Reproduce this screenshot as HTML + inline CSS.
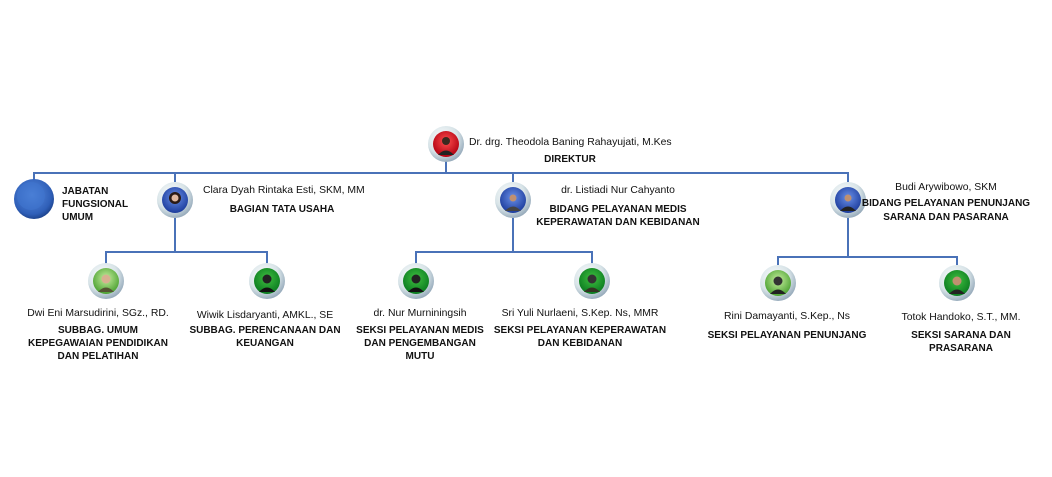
<!DOCTYPE html>
<html><head><meta charset="utf-8"><style>
html,body{margin:0;padding:0;background:#fff;}
svg{display:block;font-family:"Liberation Sans",sans-serif;}
.n{font-size:10.4px;fill:#111;}
.t{font-size:10px;font-weight:bold;fill:#111;}
</style></head><body>
<svg width="1052" height="477" viewBox="0 0 1052 477">
<defs>
<radialGradient id="ring" cx="40%" cy="35%" r="70%"><stop offset="0" stop-color="#ffffff"/><stop offset="0.6" stop-color="#d8e4e8"/><stop offset="1" stop-color="#8ea3b5"/></radialGradient>
<radialGradient id="blue" cx="45%" cy="40%" r="60%"><stop offset="0" stop-color="#5a8ee0"/><stop offset="0.8" stop-color="#2f5fb8"/><stop offset="1" stop-color="#1e4590"/></radialGradient>
<radialGradient id="red" cx="50%" cy="40%" r="60%"><stop offset="0" stop-color="#ff5050"/><stop offset="1" stop-color="#b00010"/></radialGradient>
<radialGradient id="bl" cx="50%" cy="40%" r="60%"><stop offset="0" stop-color="#6a90e8"/><stop offset="1" stop-color="#1c3c9c"/></radialGradient>
<radialGradient id="gr" cx="50%" cy="40%" r="60%"><stop offset="0" stop-color="#c8f0a0"/><stop offset="1" stop-color="#4aa030"/></radialGradient>
<radialGradient id="dg" cx="50%" cy="40%" r="60%"><stop offset="0" stop-color="#40c040"/><stop offset="1" stop-color="#0a7a20"/></radialGradient>
</defs>
<g stroke="#4a72b8" stroke-width="2" fill="none">
<path d="M446 160V173M34 181V173H848V182"/>
<path d="M175 173V182M513 173V182"/>
<path d="M175 218V252M106 264V252H267V264"/>
<path d="M513 218V252M416 264V252H592V264"/>
<path d="M848 218V257M778 265V257H957V265"/>
</g>
<circle cx="34" cy="199" r="20" fill="url(#blue)"/>
<circle cx="31" cy="196" r="14" fill="#3f74cf" opacity="0.6"/>
<g>
<circle cx="446" cy="144" r="18" fill="url(#ring)"/><circle cx="446" cy="144" r="13" fill="url(#red)"/><circle cx="446" cy="141" r="4" fill="#3a2a20"/><path d="M438 155q8-9 16 0z" fill="#222"/>
<circle cx="175" cy="200" r="18" fill="url(#ring)"/><circle cx="175" cy="200" r="13" fill="url(#bl)"/><circle cx="175" cy="198" r="6" fill="#2a1a15"/><circle cx="175" cy="198" r="3.5" fill="#e0b8a0"/>
<circle cx="513" cy="200" r="18" fill="url(#ring)"/><circle cx="513" cy="200" r="13" fill="url(#bl)"/><circle cx="513" cy="198" r="3.5" fill="#c09070"/><path d="M505 211q8-9 16 0z" fill="#444"/>
<circle cx="848" cy="200" r="18" fill="url(#ring)"/><circle cx="848" cy="200" r="13" fill="url(#bl)"/><circle cx="848" cy="198" r="3.5" fill="#c09070"/><path d="M840 211q8-9 16 0z" fill="#222"/>
<circle cx="106" cy="281" r="18" fill="url(#ring)"/><circle cx="106" cy="281" r="13" fill="url(#gr)"/><circle cx="106" cy="279" r="4.5" fill="#d8b090"/><path d="M98 292q8-9 16 0z" fill="#553"/>
<circle cx="267" cy="281" r="18" fill="url(#ring)"/><circle cx="267" cy="281" r="13" fill="url(#dg)"/><circle cx="267" cy="279" r="4.5" fill="#222"/><path d="M259 292q8-9 16 0z" fill="#111"/>
<circle cx="416" cy="281" r="18" fill="url(#ring)"/><circle cx="416" cy="281" r="13" fill="url(#dg)"/><circle cx="416" cy="279" r="4.5" fill="#222"/><path d="M408 292q8-9 16 0z" fill="#111"/>
<circle cx="592" cy="281" r="18" fill="url(#ring)"/><circle cx="592" cy="281" r="13" fill="url(#dg)"/><circle cx="592" cy="279" r="4.5" fill="#333"/><path d="M584 292q8-9 16 0z" fill="#332"/>
<circle cx="778" cy="283" r="18" fill="url(#ring)"/><circle cx="778" cy="283" r="13" fill="url(#gr)"/><circle cx="778" cy="281" r="4.5" fill="#333"/><path d="M770 294q8-9 16 0z" fill="#222"/>
<circle cx="957" cy="283" r="18" fill="url(#ring)"/><circle cx="957" cy="283" r="13" fill="url(#dg)"/><circle cx="957" cy="281" r="4.5" fill="#c09070"/><path d="M949 294q8-9 16 0z" fill="#222"/>
</g>
<text class="n" x="469" y="145">Dr. drg. Theodola Baning Rahayujati, M.Kes</text>
<text class="t" x="570" y="162" text-anchor="middle">DIREKTUR</text>
<text class="t" x="62" y="194">JABATAN</text>
<text class="t" x="62" y="207">FUNGSIONAL</text>
<text class="t" x="62" y="220">UMUM</text>
<text class="n" x="203" y="193">Clara Dyah Rintaka Esti, SKM, MM</text>
<text class="t" x="282" y="212" text-anchor="middle">BAGIAN TATA USAHA</text>
<text class="n" x="618" y="193" text-anchor="middle">dr. Listiadi Nur Cahyanto</text>
<text class="t" x="618" y="212" text-anchor="middle">BIDANG PELAYANAN MEDIS</text>
<text class="t" x="618" y="225" text-anchor="middle">KEPERAWATAN DAN KEBIDANAN</text>
<text class="n" x="946" y="190" text-anchor="middle">Budi Arywibowo, SKM</text>
<text class="t" x="946" y="206" text-anchor="middle">BIDANG PELAYANAN PENUNJANG</text>
<text class="t" x="946" y="220" text-anchor="middle">SARANA DAN PASARANA</text>
<text class="n" x="98" y="316" text-anchor="middle">Dwi Eni Marsudirini, SGz., RD.</text>
<text class="t" x="98" y="333" text-anchor="middle">SUBBAG. UMUM</text>
<text class="t" x="98" y="346" text-anchor="middle">KEPEGAWAIAN PENDIDIKAN</text>
<text class="t" x="98" y="359" text-anchor="middle">DAN PELATIHAN</text>
<text class="n" x="265" y="318" text-anchor="middle">Wiwik Lisdaryanti, AMKL., SE</text>
<text class="t" x="265" y="333" text-anchor="middle">SUBBAG. PERENCANAAN DAN</text>
<text class="t" x="265" y="346" text-anchor="middle">KEUANGAN</text>
<text class="n" x="420" y="316" text-anchor="middle">dr. Nur Murniningsih</text>
<text class="t" x="420" y="333" text-anchor="middle">SEKSI PELAYANAN MEDIS</text>
<text class="t" x="420" y="346" text-anchor="middle">DAN PENGEMBANGAN</text>
<text class="t" x="420" y="359" text-anchor="middle">MUTU</text>
<text class="n" x="580" y="316" text-anchor="middle">Sri Yuli Nurlaeni, S.Kep. Ns, MMR</text>
<text class="t" x="580" y="333" text-anchor="middle">SEKSI PELAYANAN KEPERAWATAN</text>
<text class="t" x="580" y="346" text-anchor="middle">DAN KEBIDANAN</text>
<text class="n" x="787" y="319" text-anchor="middle">Rini Damayanti, S.Kep., Ns</text>
<text class="t" x="787" y="338" text-anchor="middle">SEKSI PELAYANAN PENUNJANG</text>
<text class="n" x="961" y="320" text-anchor="middle">Totok Handoko, S.T., MM.</text>
<text class="t" x="961" y="338" text-anchor="middle">SEKSI SARANA DAN</text>
<text class="t" x="961" y="351" text-anchor="middle">PRASARANA</text>
</svg>
</body></html>
